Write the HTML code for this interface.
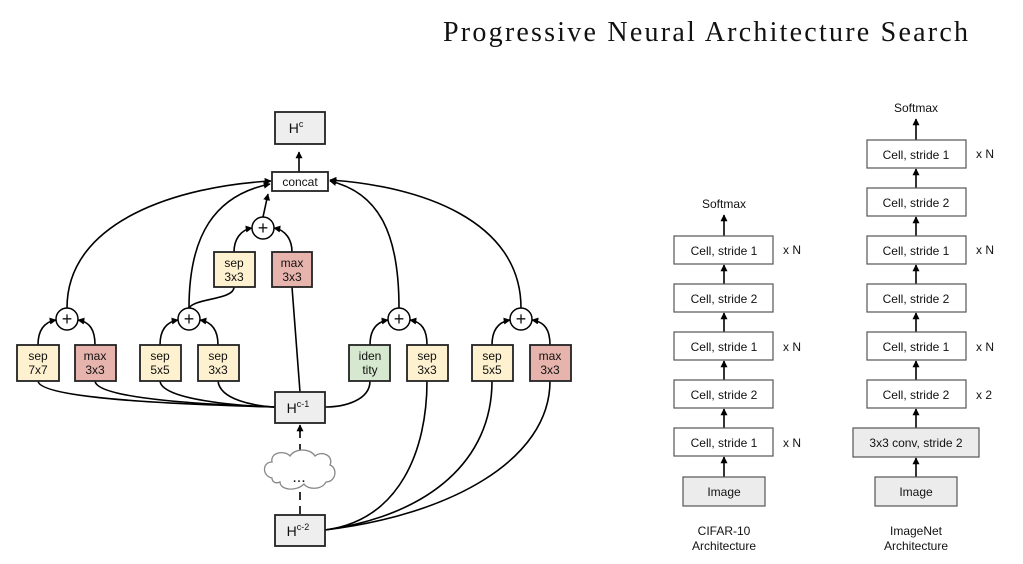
<!DOCTYPE html>
<html><head><meta charset="utf-8"><style>
html,body{margin:0;padding:0;background:#fff;}
svg{display:block;}
text{font-family:"Liberation Sans",sans-serif;fill:#111;}
</style></head><body>
<svg width="1023" height="564" viewBox="0 0 1023 564" xmlns="http://www.w3.org/2000/svg">
<defs>
<marker id="a" viewBox="0 0 10 10" refX="9" refY="5" markerWidth="7" markerHeight="7" orient="auto" markerUnits="userSpaceOnUse"><path d="M0,0 L10,5 L0,10 z" fill="#000"/></marker>
</defs>
<text x="443" y="41" font-size="28" textLength="525" style="font-family:'Liberation Serif',serif">Progressive Neural Architecture Search</text>

<g fill="none" stroke="#000" stroke-width="1.6">
<!-- to Hc -->
<path d="M299,172 L299,152" marker-end="url(#a)"/>
<!-- to concat -->
<path d="M67,308 C67,220 180,186 271,181" marker-end="url(#a)"/>
<path d="M189,308 C189,235 215,195 270,184" marker-end="url(#a)"/>
<path d="M263,217 L268,194" marker-end="url(#a)"/>
<path d="M399,308 C399,235 380,193 330,181" marker-end="url(#a)"/>
<path d="M521,308 C521,220 420,186 330,180" marker-end="url(#a)"/>
<!-- to top plus -->
<path d="M234,252 C234,240 240,230 252,228" marker-end="url(#a)"/>
<path d="M292,252 C292,240 286,230 274,228" marker-end="url(#a)"/>
<path d="M189,308 C195,298 234,300 234,287"/>
<!-- to lower pluses -->
<path d="M38,345 C38,330 44,322 56,320" marker-end="url(#a)"/>
<path d="M95,345 C95,330 90,322 78,320" marker-end="url(#a)"/>
<path d="M160,345 C160,330 166,322 178,320" marker-end="url(#a)"/>
<path d="M218,345 C218,330 212,322 200,320" marker-end="url(#a)"/>
<path d="M370,345 C370,330 376,322 388,320" marker-end="url(#a)"/>
<path d="M427,345 C427,330 422,322 410,320" marker-end="url(#a)"/>
<path d="M492,345 C492,330 498,322 510,320" marker-end="url(#a)"/>
<path d="M550,345 C550,330 545,322 532,320" marker-end="url(#a)"/>
<!-- Hc-1 to boxes -->
<path d="M38,381 C40,400 200,405 275,407"/>
<path d="M95,381 C97,400 220,405 275,407"/>
<path d="M160,381 C162,400 240,406 275,407"/>
<path d="M218,381 C220,400 255,406 275,407"/>
<path d="M292,287 L300,392"/>
<path d="M370,381 C370,400 345,407 325,407"/>
<!-- Hc-2 -->
<path d="M325,530 C400,520 427,450 427,381"/>
<path d="M325,530 C430,515 492,460 492,381"/>
<path d="M325,530 C450,515 550,460 550,381"/>
<path d="M300,514 L300,490 M300,452 L300,426" stroke-dasharray="8,6"/>
<path d="M300,432 L300,425" marker-end="url(#a)"/>
</g>

<!-- circles -->
<g fill="#fff" stroke="#000" stroke-width="1.5">
<circle cx="263" cy="228" r="11"/><circle cx="67" cy="319" r="11"/><circle cx="189" cy="319" r="11"/><circle cx="399" cy="319" r="11"/><circle cx="521" cy="319" r="11"/>
</g>
<g font-size="18" text-anchor="middle">
<text x="263" y="234">+</text><text x="67" y="325">+</text><text x="189" y="325">+</text><text x="399" y="325">+</text><text x="521" y="325">+</text>
</g>

<!-- boxes -->
<g stroke="#222" stroke-width="1.8">
<rect x="275" y="112" width="50" height="32" fill="#eeeeee"/>
<rect x="272" y="172" width="56" height="19" fill="#fff"/>
<rect x="214" y="252" width="41" height="35" fill="#fdf1cf"/>
<rect x="272" y="252" width="40" height="35" fill="#e6b4ad"/>
<rect x="17" y="345" width="42" height="36" fill="#fdf1cf"/>
<rect x="75" y="345" width="41" height="36" fill="#e6b4ad"/>
<rect x="140" y="345" width="41" height="36" fill="#fdf1cf"/>
<rect x="198" y="345" width="41" height="36" fill="#fdf1cf"/>
<rect x="349" y="345" width="41" height="36" fill="#d6e8cf"/>
<rect x="407" y="345" width="41" height="36" fill="#fdf1cf"/>
<rect x="472" y="345" width="41" height="36" fill="#fdf1cf"/>
<rect x="530" y="345" width="41" height="36" fill="#e6b4ad"/>
<rect x="275" y="392" width="50" height="31" fill="#eeeeee"/>
<rect x="275" y="515" width="50" height="31" fill="#eeeeee"/>
</g>
<g font-size="12" text-anchor="middle">
<text x="296" y="133" font-size="14">H<tspan font-size="9" dy="-6">c</tspan></text>
<text x="300" y="186">concat</text>
<text x="234" y="267">sep</text><text x="234" y="281">3x3</text>
<text x="292" y="267">max</text><text x="292" y="281">3x3</text>
<text x="38" y="360">sep</text><text x="38" y="374">7x7</text>
<text x="95" y="360">max</text><text x="95" y="374">3x3</text>
<text x="160" y="360">sep</text><text x="160" y="374">5x5</text>
<text x="218" y="360">sep</text><text x="218" y="374">3x3</text>
<text x="370" y="360">iden</text><text x="370" y="374">tity</text>
<text x="427" y="360">sep</text><text x="427" y="374">3x3</text>
<text x="492" y="360">sep</text><text x="492" y="374">5x5</text>
<text x="550" y="360">max</text><text x="550" y="374">3x3</text>
<text x="298" y="413" font-size="14">H<tspan font-size="9" dy="-6">c-1</tspan></text>
<text x="298" y="536" font-size="14">H<tspan font-size="9" dy="-6">c-2</tspan></text>
</g>
<!-- cloud -->
<path d="M272,478 C262,476 262,462 272,462 C270,452 285,450 290,456 C295,448 310,448 315,456 C322,450 334,456 330,465 C338,468 336,482 326,482 C322,490 308,490 304,484 C296,492 280,490 280,482 C276,484 272,482 272,478 Z" fill="#fff" stroke="#888" stroke-width="1.3"/>
<text x="299" y="482" font-size="16" text-anchor="middle">...</text>

<!-- right architectures -->
<g fill="none" stroke="#000" stroke-width="1.6">
<path d="M724,236 L724,215" marker-end="url(#a)"/>
<path d="M724,284 L724,265" marker-end="url(#a)"/>
<path d="M724,332 L724,313" marker-end="url(#a)"/>
<path d="M724,380 L724,361" marker-end="url(#a)"/>
<path d="M724,428 L724,409" marker-end="url(#a)"/>
<path d="M724,477 L724,457" marker-end="url(#a)"/>
<path d="M916,140 L916,119" marker-end="url(#a)"/>
<path d="M916,188 L916,169" marker-end="url(#a)"/>
<path d="M916,236 L916,217" marker-end="url(#a)"/>
<path d="M916,284 L916,265" marker-end="url(#a)"/>
<path d="M916,332 L916,313" marker-end="url(#a)"/>
<path d="M916,380 L916,361" marker-end="url(#a)"/>
<path d="M916,428 L916,409" marker-end="url(#a)"/>
<path d="M916,477 L916,458" marker-end="url(#a)"/>
</g>
<g stroke="#555" stroke-width="1.2" fill="#fff">
<rect x="674" y="236" width="99" height="28"/>
<rect x="674" y="284" width="99" height="28"/>
<rect x="674" y="332" width="99" height="28"/>
<rect x="674" y="380" width="99" height="28"/>
<rect x="674" y="428" width="99" height="28"/>
<rect x="683" y="477" width="82" height="29" fill="#ececec"/>
<rect x="867" y="140" width="99" height="28"/>
<rect x="867" y="188" width="99" height="28"/>
<rect x="867" y="236" width="99" height="28"/>
<rect x="867" y="284" width="99" height="28"/>
<rect x="867" y="332" width="99" height="28"/>
<rect x="867" y="380" width="99" height="28"/>
<rect x="853" y="428" width="126" height="29" fill="#ececec"/>
<rect x="875" y="477" width="82" height="29" fill="#ececec"/>
</g>
<g font-size="12" text-anchor="middle">
<text x="724" y="208">Softmax</text>
<text x="724" y="255">Cell, stride 1</text>
<text x="724" y="303">Cell, stride 2</text>
<text x="724" y="351">Cell, stride 1</text>
<text x="724" y="399">Cell, stride 2</text>
<text x="724" y="447">Cell, stride 1</text>
<text x="724" y="496">Image</text>
<text x="724" y="535">CIFAR-10</text>
<text x="724" y="550">Architecture</text>
<text x="916" y="112">Softmax</text>
<text x="916" y="159">Cell, stride 1</text>
<text x="916" y="207">Cell, stride 2</text>
<text x="916" y="255">Cell, stride 1</text>
<text x="916" y="303">Cell, stride 2</text>
<text x="916" y="351">Cell, stride 1</text>
<text x="916" y="399">Cell, stride 2</text>
<text x="916" y="447">3x3 conv, stride 2</text>
<text x="916" y="496">Image</text>
<text x="916" y="535">ImageNet</text>
<text x="916" y="550">Architecture</text>
</g>
<g font-size="12">
<text x="783" y="254">x N</text><text x="783" y="351">x N</text><text x="783" y="447">x N</text>
<text x="976" y="158">x N</text><text x="976" y="254">x N</text><text x="976" y="351">x N</text><text x="976" y="399">x 2</text>
</g>
</svg>
</body></html>
